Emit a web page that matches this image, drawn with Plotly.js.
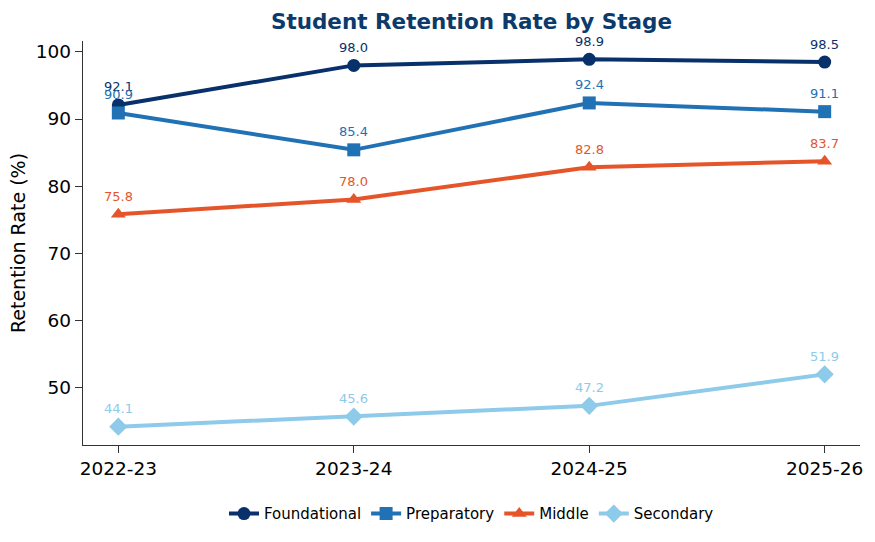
<!DOCTYPE html>
<html>
<head>
<meta charset="utf-8">
<script src="https://cdn.plot.ly/plotly-3.0.1.min.js"></script>
<style>
  html, body { margin: 0; padding: 0; background: #fff; }
  #chart { width: 875px; height: 542px; }
</style>
</head>
<body>
<div id="chart"></div>
<script>
var years = ["2022-23", "2023-24", "2024-25", "2025-26"];
var foundational = [92.1, 98.0, 98.9, 98.5];
var preparatory = [90.9, 85.4, 92.4, 91.1];
var middle = [75.8, 78.0, 82.8, 83.7];
var secondary = [44.1, 45.6, 47.2, 51.9];

var stages = [
  { name: "Foundational", y: foundational, color: "#08306b", symbol: "circle" },
  { name: "Preparatory", y: preparatory, color: "#2171b5", symbol: "square" },
  { name: "Middle", y: middle, color: "#e6552a", symbol: "triangle-up" },
  { name: "Secondary", y: secondary, color: "#8ecae9", symbol: "diamond" }
];

var font = "DejaVu Sans, sans-serif";

var data = stages.map(function (s) {
  return {
    type: "scatter",
    mode: "lines+markers",
    name: s.name,
    x: years.map(function (d, i) { return i; }),
    y: s.y,
    line: { color: s.color, width: 4 },
    marker: { color: s.color, symbol: s.symbol, size: s.symbol === "diamond" ? 14 : 13 },
    cliponaxis: false
  };
});

var annotations = [];
stages.forEach(function (s) {
  s.y.forEach(function (v, i) {
    annotations.push({
      x: i, y: v, xref: "x", yref: "y",
      text: v.toFixed(1),
      showarrow: false,
      yshift: 18,
      font: { family: font, size: 13, color: s.color }
    });
  });
});

var layout = {
  width: 875,
  height: 542,
  margin: { l: 83, r: 15, t: 41, b: 97 },
  paper_bgcolor: "#fff",
  plot_bgcolor: "#fff",
  font: { family: font, color: "#000" },
  title: {
    text: "<b>Student Retention Rate by Stage</b>",
    font: { family: font, size: 21.5, color: "#0b3a6b" },
    xref: "paper", x: 0.5, xanchor: "center",
    yref: "container", y: 0.96, yanchor: "middle"
  },
  xaxis: {
    range: [-0.15, 3.15],
    tickvals: [0, 1, 2, 3],
    ticktext: years,
    showgrid: false, zeroline: false,
    showline: true, linecolor: "#333", linewidth: 1.2,
    ticks: "outside", ticklen: 7, tickcolor: "#333",
    tickfont: { family: font, size: 18.5, color: "#000" }
  },
  yaxis: {
    range: [41.36, 101.64],
    tickvals: [50, 60, 70, 80, 90, 100],
    showgrid: false, zeroline: false,
    showline: true, linecolor: "#333", linewidth: 1.2,
    ticks: "outside", ticklen: 7, tickcolor: "#333",
    tickfont: { family: font, size: 18.5, color: "#000" },
    title: { text: "Retention Rate (%)", font: { family: font, size: 19, color: "#000" }, standoff: 5 }
  },
  legend: {
    orientation: "h",
    xref: "paper", x: 0.5, xanchor: "center",
    yref: "container", y: 0.052, yanchor: "middle",
    font: { family: font, size: 15, color: "#000" }
  },
  annotations: annotations,
  showlegend: true
};

Plotly.newPlot("chart", data, layout, { displayModeBar: false, staticPlot: true });
</script>
</body>
</html>
